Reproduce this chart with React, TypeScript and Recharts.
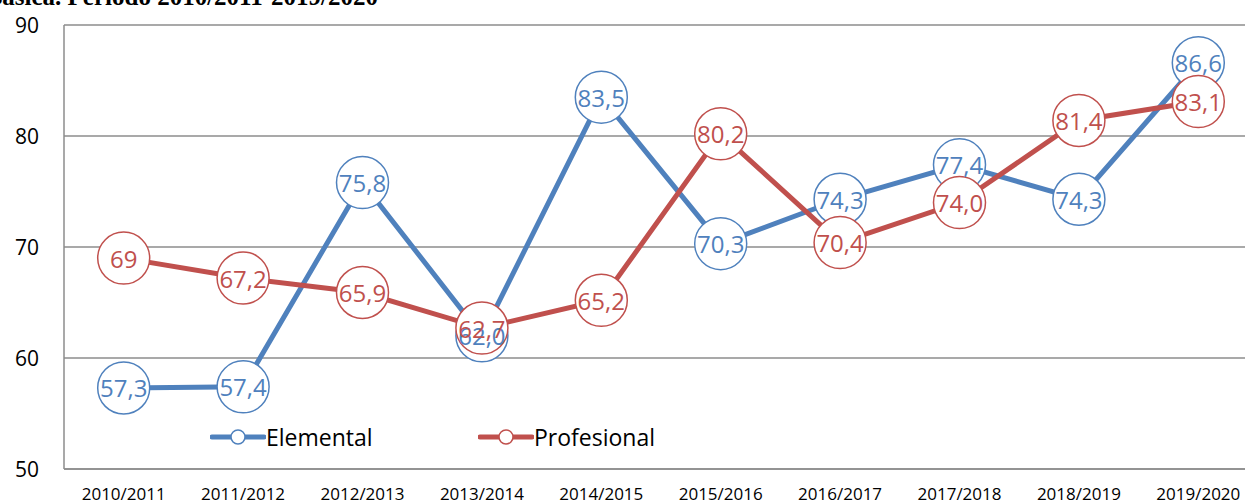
import React from 'react'
import { LineChart, Line, XAxis, YAxis, CartesianGrid, LabelList } from 'recharts'

// datos del gráfico
const periodos = [
  '2010/2011',
  '2011/2012',
  '2012/2013',
  '2013/2014',
  '2014/2015',
  '2015/2016',
  '2016/2017',
  '2017/2018',
  '2018/2019',
  '2019/2020',
]
const elemental = [57.3, 57.4, 75.8, 62.0, 83.5, 70.3, 74.3, 77.4, 74.3, 86.6]
const profesional = [69, 67.2, 65.9, 62.7, 65.2, 80.2, 70.4, 74.0, 81.4, 83.1]
const elementalLabels = ['57,3', '57,4', '75,8', '62,0', '83,5', '70,3', '74,3', '77,4', '74,3', '86,6']
const profesionalLabels = ['69', '67,2', '65,9', '62,7', '65,2', '80,2', '70,4', '74,0', '81,4', '83,1']
const yTicks = [50, 60, 70, 80, 90]

const AZUL = '#4F81BD'
const ROJO = '#C0504D'
const GRIS = '#8c8c8c'
const FONT = '"Open Sans", "DejaVu Sans", sans-serif'

const data = periodos.map((p, i) => ({
  periodo: p,
  Elemental: elemental[i],
  Profesional: profesional[i],
}))

const makeLabel = (color: string, labels: string[]) => (props: any) => {
  const { x, y, index } = props
  return (
    <text
      x={x}
      y={y}
      textAnchor="middle"
      dominantBaseline="central"
      fill={color}
      fontSize={24}
      fontFamily={FONT}
    >
      {labels[index]}
    </text>
  )
}

const YTick = (props: any) => {
  const { y, payload } = props
  return (
    <text x={39} y={y} textAnchor="end" dominantBaseline="central" fill="#000" fontSize={21} fontFamily={FONT}>
      {payload.value}
    </text>
  )
}

const XTick = (props: any) => {
  const { x, payload } = props
  return (
    <text x={x} y={493} textAnchor="middle" dominantBaseline="central" fill="#000" fontSize={17} fontFamily={FONT}>
      {payload.value}
    </text>
  )
}

const LegendItem = ({ color, name, left }: { color: string; name: string; left: number }) => (
  <div style={{ position: 'absolute', left, top: 0, display: 'flex', alignItems: 'center' }}>
    <svg width={56} height={18}>
      <line x1={2} y1={9} x2={54} y2={9} stroke={color} strokeWidth={5} strokeLinecap="round" />
      <circle cx={28} cy={9} r={7} fill="#fff" stroke={color} strokeWidth={1.5} />
    </svg>
    <span style={{ fontFamily: FONT, fontSize: 23, color: '#000', lineHeight: '26px' }}>{name}</span>
  </div>
)

export default function App() {
  return (
    <div
      style={{
        position: 'fixed',
        left: 0,
        top: 0,
        width: 1245,
        height: 502,
        overflow: 'hidden',
        background: '#fff',
      }}
    >
      <div
        style={{
          position: 'absolute',
          right: 1245 - 378,
          top: -16,
          whiteSpace: 'nowrap',
          fontFamily: '"Liberation Serif", serif',
          fontWeight: 'bold',
          fontSize: 25,
          lineHeight: '25px',
          color: '#000',
        }}
      >
        Educación Básica. Período 2010/2011-2019/2020
      </div>
      <LineChart width={1258} height={502} data={data} margin={{ top: 25, right: 0, bottom: 0, left: 0 }}>
        <CartesianGrid vertical={false} stroke={GRIS} strokeWidth={1.5} />
        <XAxis
          dataKey="periodo"
          height={33}
          padding={{ left: 59.7, right: 59.7 }}
          axisLine={{ stroke: GRIS, strokeWidth: 1.5 }}
          tickLine={false}
          tick={<XTick />}
          interval={0}
        />
        <YAxis
          width={64}
          domain={[50, 90]}
          ticks={yTicks}
          axisLine={{ stroke: GRIS, strokeWidth: 1.5 }}
          tickLine={false}
          tick={<YTick />}
        />
        <Line
          dataKey="Elemental"
          stroke={AZUL}
          strokeWidth={5}
          dot={{ r: 26, fill: '#fff', stroke: AZUL, strokeWidth: 1.5 }}
          isAnimationActive={false}
        >
          <LabelList dataKey="Elemental" content={makeLabel(AZUL, elementalLabels)} />
        </Line>
        <Line
          dataKey="Profesional"
          stroke={ROJO}
          strokeWidth={5}
          dot={{ r: 26, fill: '#fff', stroke: ROJO, strokeWidth: 1.5 }}
          isAnimationActive={false}
        >
          <LabelList dataKey="Profesional" content={makeLabel(ROJO, profesionalLabels)} />
        </Line>
      </LineChart>
      <div style={{ position: 'absolute', left: 210, top: 424, width: 600, height: 26 }}>
        <LegendItem color={AZUL} name="Elemental" left={0} />
        <LegendItem color={ROJO} name="Profesional" left={268} />
      </div>
    </div>
  )
}
